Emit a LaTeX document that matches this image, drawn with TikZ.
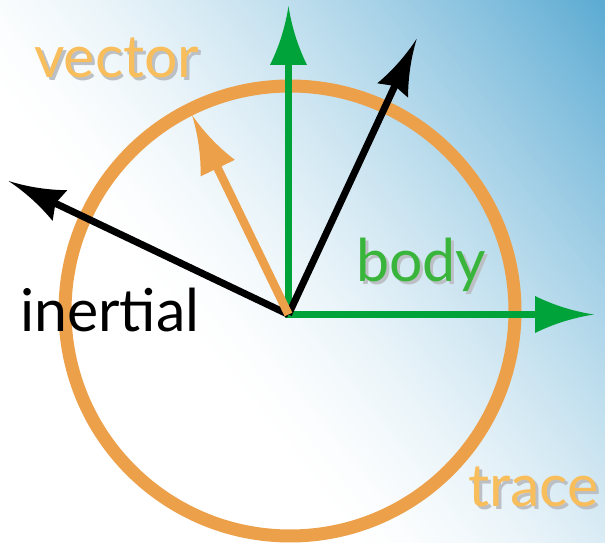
\documentclass[tikz,border=0pt]{standalone}
\usepackage{fontspec}
\setmainfont{Lato}
\usetikzlibrary{arrows.meta}
\definecolor{bgblue}{HTML}{5AAAD2}
\definecolor{ring}{HTML}{EDA04A}
\definecolor{lbl}{HTML}{F9BE5C}
\definecolor{axisgreen}{HTML}{00A33A}
\definecolor{bodygreen}{HTML}{38B53A}
\definecolor{shadowgray}{HTML}{BCC0C4}

\newcommand{\shadowedtext}[2]{\rlap{\hspace{3pt}\raisebox{-3pt}{\textcolor{shadowgray}{#2}}}\textcolor{#1}{#2}}

\pgfdeclarearrow{
  name = Flame,
  parameters = {\the\pgfarrowlength,\the\pgfarrowwidth,\the\pgfarrowinset},
  setup code = {
    \pgfarrowssettipend{0pt}
    \pgfarrowssetlineend{-.7\pgfarrowlength}
    \pgfarrowssetbackend{-\pgfarrowlength}
    \pgfarrowsupperhullpoint{0pt}{0pt}
    \pgfarrowsupperhullpoint{-\pgfarrowlength}{.5\pgfarrowwidth}
    \pgfarrowssavethe\pgfarrowlength
    \pgfarrowssavethe\pgfarrowwidth
    \pgfarrowssavethe\pgfarrowinset
  },
  drawing code = {
    \pgfpathmoveto{\pgfpointorigin}
    \pgfpathcurveto{\pgfpoint{-.33\pgfarrowlength}{.08\pgfarrowwidth}}{\pgfpoint{-.67\pgfarrowlength}{.24\pgfarrowwidth}}{\pgfpoint{-\pgfarrowlength}{.5\pgfarrowwidth}}
    \pgfpathlineto{\pgfpoint{-\pgfarrowinset}{0pt}}
    \pgfpathlineto{\pgfpoint{-\pgfarrowlength}{-.5\pgfarrowwidth}}
    \pgfpathcurveto{\pgfpoint{-.67\pgfarrowlength}{-.24\pgfarrowwidth}}{\pgfpoint{-.33\pgfarrowlength}{-.08\pgfarrowwidth}}{\pgfpointorigin}
    \pgfpathclose
    \pgfusepathqfill
  },
  defaults = {length=58pt, width=36pt, inset=58pt}
}

\tikzset{
  greenaxis/.style={draw=axisgreen, line width=7pt, -{Flame[length=59pt,width=37pt,inset=59pt]}},
  blackvec/.style={draw=black, line width=7pt, -{Flame[length=57pt,width=34pt,inset=52pt]}},
  orangevec/.style={draw=ring, line width=8.5pt, -{Flame[length=59pt,width=38pt,inset=59pt]}},
  ringstyle/.style={draw=ring, line width=13pt},
  lbltext/.style={font=\fontsize{59}{60}\selectfont, inner sep=0pt, anchor=base west},
}

\begin{document}
\begin{tikzpicture}[x=1pt,y=1pt]
\useasboundingbox (0,0) rectangle (605,543);
% background gradient
\fill[white] (0,0) rectangle (605,543);
\begin{scope}
  \clip (0,0) rectangle (605,543);
  \begin{scope}[shift={(0,443)}, rotate=38.31]
    \foreach \i in {1,...,180} {
      \pgfmathsetmacro{\p}{\i*3}
      \pgfmathsetmacro{\m}{min(100,100*(\p/537)^1.5)}
      \fill[bgblue!\m!white] (\p,-1000) rectangle (1000,1000);
    }
  \end{scope}
\end{scope}

% trace circle
\node[circle, ringstyle, minimum size=450pt, inner sep=0pt] (trace) at (290,232) {};

% coordinates
\coordinate (O) at (288.5,228.5);
\coordinate (Ov) at (288.5,225);
\coordinate (Oh) at (285,228.5);
\coordinate (gup) at (288.5,537);
\coordinate (gright) at (594,228.5);
\coordinate (bur) at (416.7,504.2);
\coordinate (bleft) at (8.5,362);
\coordinate (ovec) at (192,428);

% arrows
\draw[greenaxis] (Ov) -- (gup);
\draw[greenaxis] (Oh) -- (gright);
\draw[blackvec] (O) -- (bur);
\draw[blackvec] (O) -- (bleft);
\draw[orangevec] (O) -- (ovec);

% labels
\node[lbltext] (lvector) at (34,465) {\shadowedtext{lbl}{vector}};
\node[lbltext] (lbody) at (356,261) {\shadowedtext{bodygreen}{body}};
\node[lbltext] (ltrace) at (468,36) {\shadowedtext{lbl}{trace}};
\node[lbltext, text=black] (linertial) at (20,211) {inertial};
\end{tikzpicture}
\end{document}
